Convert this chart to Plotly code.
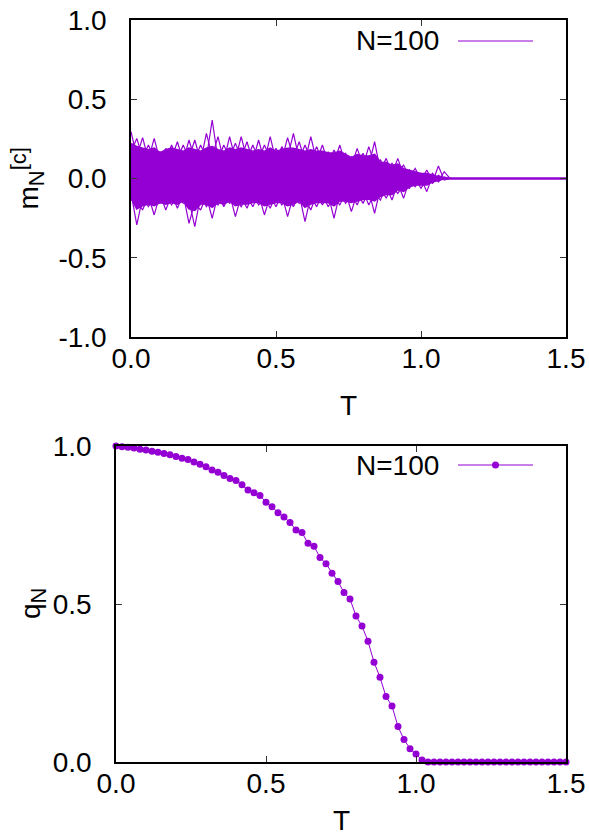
import plotly.graph_objects as go

PURPLE = "#9400D3"
FONT = "Liberation Sans, Arial, Helvetica, sans-serif"

# Temperature grid (shared by both panels)
T = [0.00, 0.02, 0.04, 0.06, 0.08, 0.10, 0.12, 0.14, 0.16, 0.18,
     0.20, 0.22, 0.24, 0.26, 0.28, 0.30, 0.32, 0.34, 0.36, 0.38,
     0.40, 0.42, 0.44, 0.46, 0.48, 0.50, 0.52, 0.54, 0.56, 0.58,
     0.60, 0.62, 0.64, 0.66, 0.68, 0.70, 0.72, 0.74, 0.76, 0.78,
     0.80, 0.82, 0.84, 0.86, 0.88, 0.90, 0.92, 0.94, 0.96, 0.98,
     1.00, 1.02, 1.04, 1.06, 1.08, 1.10, 1.12, 1.14, 1.16, 1.18,
     1.20, 1.22, 1.24, 1.26, 1.28, 1.30, 1.32, 1.34, 1.36, 1.38,
     1.40, 1.42, 1.44, 1.46, 1.48, 1.50]

# Top panel: dense core of the m_N^[c] curves (upper / lower limits of the solid region)
m_core_upper = [0.22, 0.20, 0.19, 0.18, 0.19, 0.16, 0.18, 0.19, 0.18, 0.17,
                0.19, 0.18, 0.17, 0.19, 0.20, 0.18, 0.17, 0.19, 0.18, 0.19,
                0.18, 0.17, 0.18, 0.17, 0.19, 0.17, 0.18, 0.19, 0.19, 0.18,
                0.17, 0.18, 0.17, 0.17, 0.16, 0.16, 0.17, 0.15, 0.13, 0.15,
                0.14, 0.14, 0.15, 0.10, 0.10, 0.08, 0.09, 0.06, 0.05, 0.04,
                0.03, 0.03, 0.02, 0.01, 0.0, 0.0, 0.0, 0.0, 0.0, 0.0,
                0.0, 0.0, 0.0, 0.0, 0.0, 0.0, 0.0, 0.0, 0.0, 0.0,
                0.0, 0.0, 0.0, 0.0, 0.0, 0.0]
m_core_lower = [-0.12, -0.19, -0.17, -0.16, -0.17, -0.15, -0.16, -0.15, -0.16, -0.14,
                -0.19, -0.20, -0.16, -0.16, -0.18, -0.15, -0.16, -0.14, -0.17, -0.16,
                -0.16, -0.15, -0.15, -0.17, -0.16, -0.15, -0.15, -0.17, -0.16, -0.14,
                -0.18, -0.16, -0.15, -0.15, -0.15, -0.17, -0.14, -0.14, -0.15, -0.14,
                -0.13, -0.13, -0.14, -0.11, -0.10, -0.10, -0.07, -0.08, -0.05, -0.04,
                -0.04, -0.04, -0.02, -0.01, 0.0, 0.0, 0.0, 0.0, 0.0, 0.0,
                0.0, 0.0, 0.0, 0.0, 0.0, 0.0, 0.0, 0.0, 0.0, 0.0,
                0.0, 0.0, 0.0, 0.0, 0.0, 0.0]

# Top panel: individual curves that stick out of the dense core (spiky edges)
m_curve_a = [0.295, 0.14, 0.258, 0.12, 0.253, 0.11, 0.190, 0.13, 0.232, 0.11,
             0.243, 0.12, 0.211, 0.13, 0.369, 0.12, 0.211, 0.13, 0.222, 0.13,
             0.232, 0.11, 0.243, 0.11, 0.264, 0.11, 0.201, 0.13, 0.285, 0.12,
             0.211, 0.12, 0.201, 0.11, 0.169, 0.10, 0.211, 0.09, 0.138, 0.09,
             0.159, 0.08, 0.232, 0.05, 0.127, 0.03, 0.127, 0.02, 0.054, 0.00,
             0.033, -0.01, 0.033, -0.02, 0.043, 0.0, 0.0, 0.0, 0.0, 0.0,
             0.0, 0.0, 0.0, 0.0, 0.0, 0.0, 0.0, 0.0, 0.0, 0.0,
             0.0, 0.0, 0.0, 0.0, 0.0, 0.0]
m_curve_b = [0.17, 0.253, 0.13, 0.211, 0.13, 0.169, 0.12, 0.211, 0.12, 0.211,
             0.13, 0.243, 0.11, 0.285, 0.14, 0.264, 0.11, 0.264, 0.12, 0.264,
             0.12, 0.211, 0.12, 0.211, 0.13, 0.190, 0.12, 0.258, 0.13, 0.232,
             0.11, 0.264, 0.11, 0.211, 0.10, 0.180, 0.11, 0.159, 0.08, 0.190,
             0.08, 0.201, 0.09, 0.117, 0.05, 0.096, 0.04, 0.085, 0.01, 0.064,
             -0.01, 0.054, -0.02, 0.079, -0.01, 0.0, 0.0, 0.0, 0.0, 0.0,
             0.0, 0.0, 0.0, 0.0, 0.0, 0.0, 0.0, 0.0, 0.0, 0.0,
             0.0, 0.0, 0.0, 0.0, 0.0, 0.0]
m_curve_c = [-0.136, -0.14, -0.199, -0.11, -0.230, -0.10, -0.199, -0.10, -0.188, -0.10,
             -0.283, -0.15, -0.199, -0.11, -0.251, -0.10, -0.178, -0.10, -0.241, -0.11,
             -0.188, -0.10, -0.167, -0.12, -0.188, -0.10, -0.167, -0.12, -0.178, -0.10,
             -0.272, -0.11, -0.178, -0.10, -0.178, -0.12, -0.167, -0.09, -0.209, -0.09,
             -0.157, -0.08, -0.220, -0.06, -0.125, -0.05, -0.094, -0.04, -0.062, 0.00,
             -0.062, 0.00, -0.030, 0.02, 0.0, 0.0, 0.0, 0.0, 0.0, 0.0,
             0.0, 0.0, 0.0, 0.0, 0.0, 0.0, 0.0, 0.0, 0.0, 0.0,
             0.0, 0.0, 0.0, 0.0, 0.0, 0.0]
m_curve_d = [-0.09, -0.293, -0.12, -0.178, -0.12, -0.157, -0.11, -0.167, -0.11, -0.157,
             -0.14, -0.304, -0.11, -0.178, -0.13, -0.167, -0.11, -0.157, -0.12, -0.178,
             -0.11, -0.178, -0.10, -0.230, -0.11, -0.178, -0.10, -0.241, -0.11, -0.157,
             -0.13, -0.199, -0.10, -0.167, -0.10, -0.251, -0.09, -0.157, -0.10, -0.167,
             -0.08, -0.167, -0.09, -0.136, -0.05, -0.136, -0.03, -0.125, -0.01, -0.052,
             0.00, -0.083, 0.02, -0.020, 0.01, 0.0, 0.0, 0.0, 0.0, 0.0,
             0.0, 0.0, 0.0, 0.0, 0.0, 0.0, 0.0, 0.0, 0.0, 0.0,
             0.0, 0.0, 0.0, 0.0, 0.0, 0.0]
m_curves = [m_curve_a, m_curve_b, m_curve_c, m_curve_d]

# Bottom panel: q_N
q_N = [1.000, 0.998, 0.996, 0.994, 0.990, 0.987, 0.983, 0.980, 0.976, 0.972,
       0.967, 0.961, 0.957, 0.949, 0.942, 0.934, 0.924, 0.917, 0.907, 0.897,
       0.891, 0.877, 0.861, 0.852, 0.843, 0.822, 0.808, 0.789, 0.775, 0.758,
       0.734, 0.726, 0.692, 0.683, 0.647, 0.627, 0.597, 0.571, 0.536, 0.516,
       0.462, 0.430, 0.382, 0.316, 0.268, 0.207, 0.177, 0.112, 0.071, 0.042,
       0.025, 0.006, 0.0, 0.0, 0.0, 0.0, 0.0, 0.0, 0.0, 0.0,
       0.0, 0.0, 0.0, 0.0, 0.0, 0.0, 0.0, 0.0, 0.0, 0.0,
       0.0, 0.0, 0.0, 0.0, 0.0, 0.0]

x_ticks = [0.0, 0.5, 1.0, 1.5]
x_ticktext = ["0.0", "0.5", "1.0", "1.5"]
m_ticks = [-1.0, -0.5, 0.0, 0.5, 1.0]
m_ticktext = ["-1.0", "-0.5", "0.0", "0.5", "1.0"]
q_ticks = [0.0, 0.5, 1.0]
q_ticktext = ["0.0", "0.5", "1.0"]
legend_label = "N=100"

W, H = 589, 836


def px_x(p):
    return p / W


def px_y(p):
    return 1 - p / H


fig = go.Figure()

# top panel: dense core
fig.add_trace(go.Scatter(x=T, y=m_core_lower, mode="lines", line=dict(color=PURPLE, width=2),
                         xaxis="x", yaxis="y", showlegend=False, hoverinfo="skip"))
fig.add_trace(go.Scatter(x=T, y=m_core_upper, mode="lines", line=dict(color=PURPLE, width=2),
                         fill="tonexty", fillcolor=PURPLE,
                         xaxis="x", yaxis="y", showlegend=False, hoverinfo="skip"))
# top panel: individual spiky curves
for curve in m_curves:
    fig.add_trace(go.Scatter(x=T, y=curve, mode="lines", line=dict(color=PURPLE, width=1.2),
                             xaxis="x", yaxis="y", showlegend=False))

# bottom panel
fig.add_trace(go.Scatter(x=T, y=q_N, mode="lines+markers",
                         line=dict(color=PURPLE, width=1),
                         marker=dict(color=PURPLE, size=7, symbol="circle"),
                         xaxis="x2", yaxis="y2", showlegend=False, cliponaxis=False))

axis_common = dict(
    showgrid=False, zeroline=False, showline=True, linecolor="black", linewidth=1.5,
    mirror="ticks", ticks="inside", ticklen=6, tickwidth=1, tickcolor="#333",
    tickfont=dict(family=FONT, size=28, color="black"),
    automargin=False,
)

fig.update_layout(
    width=W, height=H, autosize=False,
    margin=dict(l=0, r=0, t=0, b=0, pad=0),
    paper_bgcolor="white", plot_bgcolor="white",
    showlegend=False,
    xaxis=dict(domain=[px_x(131), px_x(566)], range=[0, 1.5], anchor="y",
               tickvals=x_ticks, ticktext=x_ticktext, ticklabelstandoff=-4, **axis_common),
    yaxis=dict(domain=[px_y(337), px_y(20)], range=[-1, 1], anchor="x",
               tickvals=m_ticks, ticktext=m_ticktext, ticklabelstandoff=17, **axis_common),
    xaxis2=dict(domain=[px_x(116), px_x(566)], range=[0, 1.5], anchor="y2",
                tickvals=x_ticks, ticktext=x_ticktext, ticklabelstandoff=-4, **axis_common),
    yaxis2=dict(domain=[px_y(762), px_y(446)], range=[0, 1], anchor="x2",
                tickvals=q_ticks, ticktext=q_ticktext, ticklabelstandoff=17, **axis_common),
)

title_font = dict(family=FONT, size=28, color="black")
m_label = ("m<sub><span style='font-size:22px'>N</span></sub>"
           "<sup><span style='font-size:22px'>[c]</span></sup>")
q_label = "q<sub><span style='font-size:22px'>N</span></sub>"
annotations = [
    dict(text="T", x=px_x(348.5), y=px_y(405), xref="paper", yref="paper",
         xanchor="center", yanchor="middle", showarrow=False, font=title_font),
    dict(text="T", x=px_x(341), y=px_y(820), xref="paper", yref="paper",
         xanchor="center", yanchor="middle", showarrow=False, font=title_font, borderpad=0),
    dict(text=m_label, x=px_x(28), y=px_y(178.5), xref="paper", yref="paper",
         xanchor="center", yanchor="middle", showarrow=False, font=title_font, textangle=-90),
    dict(text=q_label, x=px_x(33), y=px_y(604), xref="paper", yref="paper",
         xanchor="center", yanchor="middle", showarrow=False, font=title_font, textangle=-90),
    dict(text=legend_label, x=px_x(441), y=px_y(41), xref="paper", yref="paper",
         xanchor="right", yanchor="middle", showarrow=False, font=title_font),
    dict(text=legend_label, x=px_x(441), y=px_y(465), xref="paper", yref="paper",
         xanchor="right", yanchor="middle", showarrow=False, font=title_font),
]
fig.update_layout(annotations=annotations)

shapes = [
    dict(type="line", xref="paper", yref="paper", x0=px_x(458), x1=px_x(533),
         y0=px_y(41), y1=px_y(41), line=dict(color=PURPLE, width=1)),
    dict(type="line", xref="paper", yref="paper", x0=px_x(458), x1=px_x(533),
         y0=px_y(465), y1=px_y(465), line=dict(color=PURPLE, width=1)),
    dict(type="circle", xref="paper", yref="paper", xsizemode="pixel", ysizemode="pixel",
         xanchor=px_x(495.5), yanchor=px_y(465), x0=-3.5, x1=3.5, y0=-3.5, y1=3.5,
         fillcolor=PURPLE, line=dict(color=PURPLE, width=0)),
]
fig.update_layout(shapes=shapes)

fig.write_html("out.html")
